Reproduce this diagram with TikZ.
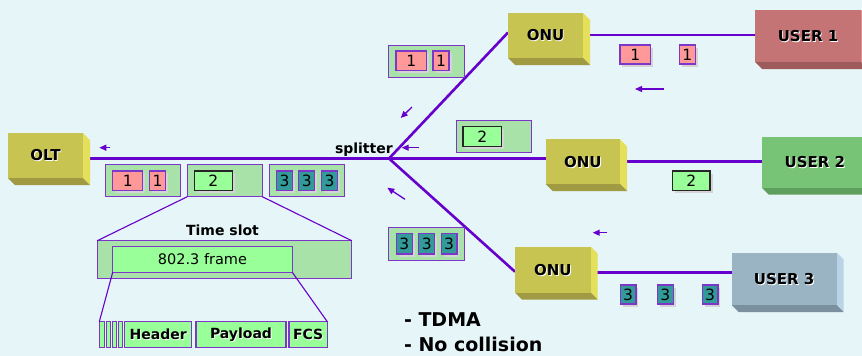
\documentclass[tikz,border=0pt]{standalone}
\usepackage{fontspec}
\setmainfont{DejaVu Sans}
\usetikzlibrary{arrows.meta,shadows}

\definecolor{bgcol}{RGB}{230,245,247}
\definecolor{wire}{RGB}{102,0,204}
\definecolor{edgecol}{RGB}{125,55,200}
\definecolor{onufront}{RGB}{200,196,82}
\definecolor{onuside}{RGB}{228,224,92}
\definecolor{onubottom}{RGB}{160,155,66}
\definecolor{uonefront}{RGB}{196,116,116}
\definecolor{uoneside}{RGB}{222,142,142}
\definecolor{uonebottom}{RGB}{158,91,91}
\definecolor{utwofront}{RGB}{119,196,119}
\definecolor{utwoside}{RGB}{150,222,150}
\definecolor{utwobottom}{RGB}{94,158,94}
\definecolor{uthreefront}{RGB}{155,180,196}
\definecolor{uthreeside}{RGB}{184,212,230}
\definecolor{uthreebottom}{RGB}{123,144,158}
\definecolor{groupfill}{RGB}{168,226,168}
\definecolor{mint}{RGB}{153,255,153}
\definecolor{pinkfill}{RGB}{255,153,153}
\definecolor{tealfill}{RGB}{51,153,153}
\definecolor{shade}{RGB}{212,212,214}

\pgfdeclarelayer{back}
\pgfdeclarelayer{wires}
\pgfsetlayers{back,wires,main}

\tikzset{
  wireline/.style={wire, line width=2.6pt},
  zoomline/.style={wire, line width=1.1pt},
  flow/.style={wire, line width=1.3pt, -{Triangle[length=7pt,width=6pt]}},
  boxface/.style={inner sep=0pt, outer sep=0pt},
  boxtext/.style={font=\fontsize{15}{15}\selectfont\bfseries, text=black},
  shadowtext/.style={font=\fontsize{15}{15}\selectfont\bfseries, text=white},
  group/.style={draw=edgecol, line width=1pt, fill=groupfill, inner sep=0pt, outer sep=0pt},
  pkt/.style={draw=edgecol, line width=1.2pt, inner sep=0pt, outer sep=0pt,
    minimum height=19.7pt, font=\fontsize{15.5}{15.5}\selectfont,
    drop shadow={shadow xshift=2.5pt, shadow yshift=-2.5pt, fill=shade, draw=none, opacity=1}},
  pktone/.style={pkt, fill=pinkfill},
  pkttwo/.style={pkt, fill=mint, draw=black!85},
  pktthree/.style={pkt, fill=tealfill, minimum width=15.8pt},
  field/.style={draw=edgecol, line width=1.1pt, fill=mint, inner sep=0pt, outer sep=0pt,
    minimum height=26pt},
  bar/.style={field, line width=0.8pt},
  fieldtext/.style={font=\fontsize{14}{14}\selectfont\bfseries},
  plain/.style={font=\fontsize{14}{14}\selectfont\bfseries},
  note/.style={font=\fontsize{19}{19}\selectfont\bfseries, anchor=base west},
}

% solid box with a right side and a bottom face:
% #1 name, #2-#5 front face corners, #6-#8 face colours, #9 label
\newcommand\solidbox[9]{%
  \fill[#7] (#4,#3) -- (#4+7,#3+7) -- (#4+7,#5+7) -- (#4,#5) -- cycle;
  \fill[#8] (#2,#5) -- (#4,#5) -- (#4+7,#5+7) -- (#2+7,#5+7) -- cycle;
  \node[boxface, fill=#6, minimum width={(#4-#2)*1pt}, minimum height={(#5-#3)*1pt}]
    (#1) at ({(#2+#4)/2},{(#3+#5)/2}) {};
  \node[shadowtext] at ([shift={(0.9,0.9)}]#1.center) {#9};
  \node[boxtext] at (#1.center) {#9};
}

% label with a white offset copy behind it
\newcommand\liftedtext[3]{%
  \node[fieldtext, text=white] at ([shift={(0.8,0.8)}]#1.center) {#3};
  \node[fieldtext] (#2) at (#1.center) {#3};
}

\begin{document}
\begin{tikzpicture}[x=1pt, y=-1pt]
\clip (0,0) rectangle (862,356);
\begin{pgfonlayer}{back}
  \fill[bgcol] (0,0) rectangle (862,356);
\end{pgfonlayer}

% ---- equipment boxes
\solidbox{olt}{8}{133}{83}{178}{onufront}{onuside}{onubottom}{OLT}
\solidbox{onua}{508}{13}{583}{58}{onufront}{onuside}{onubottom}{ONU}
\solidbox{onub}{545.7}{139.3}{620}{184}{onufront}{onuside}{onubottom}{ONU}
\solidbox{onuc}{515}{246.7}{590.7}{292.7}{onufront}{onuside}{onubottom}{ONU}
\solidbox{usera}{755}{10}{861}{62}{uonefront}{uoneside}{uonebottom}{USER 1}
\solidbox{userb}{761.7}{136.7}{868}{187.5}{utwofront}{utwoside}{utwobottom}{USER 2}
\solidbox{userc}{731.7}{252.7}{836.7}{305}{uthreefront}{uthreeside}{uthreebottom}{USER 3}

\coordinate (split) at (389,158.5);
\node[plain, anchor=base west] (splitlabel) at (331.5,153.3) {splitter};

% ---- fibre links
\begin{pgfonlayer}{wires}
  \draw[wireline] (split) -- (split -| olt.east);
  \draw[wireline] (split) -- ([yshift=3pt]onua.west);
  \draw[wireline] (split) -- (split -| onub.west);
  \draw[wireline] (split) -- ([yshift=-2pt]onuc.west);
  \draw[wireline] ([yshift=0.5pt]onua.east) -- ([yshift=0.5pt]onua.east -| usera.west);
  \draw[wireline] (onub.east) -- (onub.east -| userb.west);
  \draw[wireline] ([yshift=-3pt]onuc.east) -- ([yshift=-3pt]onuc.east -| userc.west);
\end{pgfonlayer}

% ---- frames on the shared trunk
\node[group, minimum width=74.7pt, minimum height=32.4pt] (ga) at (142.7,180.5) {};
\node[group, minimum width=75pt, minimum height=32.4pt] (gb) at (224.8,180.5) {};
\node[group, minimum width=74.7pt, minimum height=32.4pt] (gc) at (306.7,180.5) {};
\node[pktone, minimum width=30pt] (pa1) at (127.7,180.8) {1};
\node[pktone, minimum width=16.4pt] (pa2) at (157.5,180.8) {1};
\node[pkttwo, minimum width=38pt] (pb1) at (213.3,180.8) {2};
\node[pktthree] (pc1) at (284.5,180.8) {3};
\node[pktthree] (pc2) at (306.7,180.8) {3};
\node[pktthree] (pc3) at (329.5,180.8) {3};

% ---- frames on the branches
\node[group, minimum width=76pt, minimum height=32pt] (gtop) at (426,61) {};
\node[pktone, minimum width=30.7pt] (pt1) at (411.3,60.8) {1};
\node[pktone, minimum width=16pt] (pt2) at (441,60.8) {1};
\node[group, minimum width=75.7pt, minimum height=32pt] (gmid) at (493.9,136.7) {};
\node[pkttwo, minimum width=38.7pt, minimum height=20pt] (pm1) at (482.3,136.7) {2};
\node[group, minimum width=76pt, minimum height=32.7pt] (glow) at (426.3,243.7) {};
\node[pktthree, minimum height=20.7pt] (pl1) at (404.2,243.7) {3};
\node[pktthree, minimum height=20.7pt] (pl2) at (426.7,243.7) {3};
\node[pktthree, minimum height=20.7pt] (pl3) at (449,243.7) {3};

% ---- frames from the users
\node[pktone, minimum width=30.7pt, minimum height=19pt] (ua1) at (635.3,54.5) {1};
\node[pktone, minimum width=16pt, minimum height=19pt] (ua2) at (687.3,54.5) {1};
\node[pkttwo, minimum width=37.7pt, minimum height=19.3pt] (ub1) at (691.2,180.7) {2};
\node[pktthree, minimum height=19pt] (uc1) at (628,294.5) {3};
\node[pktthree, minimum height=19pt] (uc2) at (665.3,294.5) {3};
\node[pktthree, minimum height=19pt] (uc3) at (710,294.5) {3};

% ---- direction of traffic
\coordinate (fa1) at (110,147.7);   \coordinate (fa2) at (99.3,147.7);
\coordinate (fb1) at (412,107);     \coordinate (fb2) at (400.7,118);
\coordinate (fc1) at (419,147.7);   \coordinate (fc2) at (401.7,147.7);
\coordinate (fd1) at (405,199.3);   \coordinate (fd2) at (387.3,187.7);
\coordinate (fe1) at (664,89);      \coordinate (fe2) at (635,89);
\coordinate (ff1) at (607.3,232.7); \coordinate (ff2) at (592.7,232.7);
\draw[flow] (fa1) -- (fa2);
\draw[flow] (fb1) -- (fb2);
\draw[flow] (fc1) -- (fc2);
\draw[flow] (fd1) -- (fd2);
\draw[flow] (fe1) -- (fe2);
\draw[flow] (ff1) -- (ff2);

% ---- time slot breakdown
\node[group, minimum width=254.4pt, minimum height=37.6pt] (slot) at (224.5,259.5) {};
\node[plain, anchor=base] (slotlabel) at (222.5,235.7) {Time slot};
\node[draw=edgecol, line width=1.1pt, fill=mint, inner sep=0pt, outer sep=0pt,
      minimum width=179.6pt, minimum height=25.6pt,
      font=\fontsize{14.5}{14.5}\selectfont] (frame) at (202.5,259.5) {802.3 frame};

\node[bar, minimum width=4.7pt] (bar1) at (101.65,334.7) {};
\node[bar, minimum width=4pt] (bar2) at (108,334.7) {};
\node[bar, minimum width=4pt] (bar3) at (114,334.7) {};
\node[bar, minimum width=4.3pt] (bar4) at (120.15,334.7) {};
\node[field, minimum width=67pt] (hdr) at (158.2,334.7) {};
\node[field, minimum width=90pt] (pay) at (241,334.7) {};
\node[field, minimum width=38.3pt] (fcs) at (308.15,334.7) {};
\liftedtext{hdr}{hdrtext}{Header}
\liftedtext{pay}{paytext}{Payload}
\liftedtext{fcs}{fcstext}{FCS}

\draw[zoomline] (gb.south west) -- (slot.north west);
\draw[zoomline] (gb.south east) -- (slot.north east);
\draw[zoomline] (frame.south west) -- (bar1.north west);
\draw[zoomline] (frame.south east) -- (fcs.north east);

% ---- notes
\node[note] (notea) at (400.5,326.7) {- TDMA};
\node[note] (noteb) at (400.5,351.7) {- No collision};
\end{tikzpicture}
\end{document}
